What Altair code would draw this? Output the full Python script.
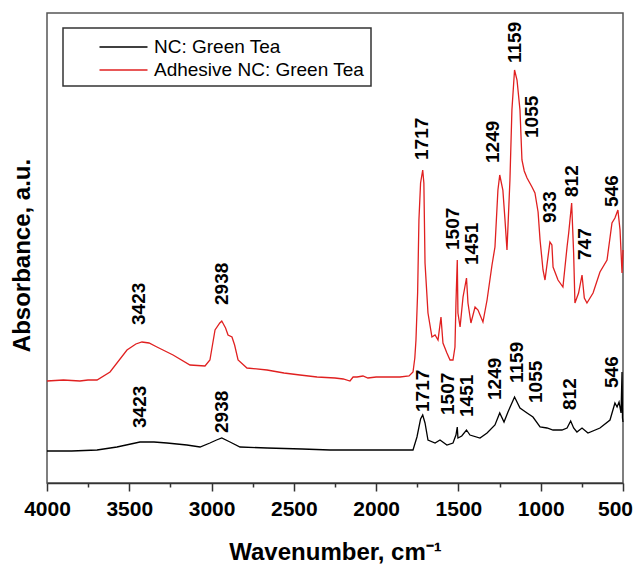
import altair as alt
import pandas as pd

series_names = ["NC: Green Tea", "Adhesive NC: Green Tea"]
series_colors = ["#000000", "#e02020"]

# Adhesive NC: Green Tea (red) spectrum
ad_wn = [4000, 3900, 3800, 3751, 3696, 3617, 3514, 3460, 3423, 3380, 3332, 3234, 3131, 3040,
         3010, 2979, 2950, 2938, 2915, 2900, 2876, 2860, 2839, 2785, 2663, 2560, 2463, 2359,
         2250, 2200, 2159, 2140, 2116, 2080, 2050, 2000, 1958, 1900, 1855, 1800, 1776, 1765,
         1758, 1748, 1740, 1730, 1717, 1710, 1703, 1685, 1661, 1642, 1624, 1606, 1594, 1570,
         1551, 1533, 1521, 1515, 1507, 1503, 1490, 1472, 1451, 1442, 1424, 1399, 1381, 1351,
         1326, 1296, 1278, 1260, 1249, 1230, 1217, 1205, 1187, 1175, 1159, 1144, 1126, 1114,
         1100, 1083, 1053, 1035, 1016, 1004, 986, 974, 944, 932, 925, 895, 865, 840, 830, 812,
         800, 792, 770, 749, 735, 719, 682, 640, 597, 567, 549, 531, 518, 506, 500]
ad_abs = [1.02, 1.03, 1.02, 1.03, 1.03, 1.11, 1.33, 1.39, 1.41, 1.40, 1.36, 1.28, 1.18, 1.17,
          1.23, 1.53, 1.60, 1.62, 1.55, 1.48, 1.46, 1.38, 1.23, 1.15, 1.13, 1.10, 1.08, 1.06,
          1.05, 1.04, 1.02, 1.06, 1.06, 1.07, 1.05, 1.06, 1.06, 1.06, 1.06, 1.07, 1.11, 1.25,
          1.43, 1.90, 2.63, 3.00, 3.13, 3.00, 2.20, 1.70, 1.46, 1.48, 1.43, 1.66, 1.40, 1.30,
          1.23, 1.23, 1.36, 1.80, 2.23, 1.70, 1.56, 1.86, 2.05, 1.80, 1.60, 1.76, 1.73, 1.61,
          1.83, 2.18, 2.36, 2.93, 3.08, 2.93, 2.63, 2.33, 3.03, 3.73, 4.13, 4.03, 3.73, 3.23,
          3.12, 3.05, 2.96, 2.90, 2.71, 2.43, 2.13, 2.03, 2.41, 2.38, 2.16, 2.03, 1.96, 2.36, 2.50, 2.80,
          2.30, 1.80, 1.90, 2.08, 1.85, 1.80, 1.90, 2.11, 2.23, 2.60, 2.65, 2.73, 2.53, 2.10, 2.33]

# NC: Green Tea (black) spectrum
nc_wn = [4000, 3850, 3696, 3575, 3435, 3350, 3271, 3150, 3070, 3010, 2970, 2938, 2888, 2827,
         2663, 2450, 2280, 2000, 1800, 1776, 1752, 1730, 1717, 1703, 1685, 1642, 1612, 1570,
         1533, 1515, 1507, 1503, 1480, 1451, 1430, 1369, 1326, 1278, 1249, 1223, 1199, 1159,
         1126, 1083, 1047, 1004, 962, 925, 871, 840, 818, 800, 780, 749, 713, 640, 579, 549,
         536, 524, 512, 506, 503, 500]
nc_abs = [0.32, 0.32, 0.33, 0.36, 0.41, 0.41, 0.40, 0.38, 0.36, 0.40, 0.43, 0.45, 0.41, 0.36,
          0.35, 0.34, 0.33, 0.33, 0.33, 0.33, 0.46, 0.64, 0.68, 0.60, 0.43, 0.40, 0.43, 0.38,
          0.40, 0.48, 0.56, 0.45, 0.47, 0.53, 0.48, 0.45, 0.50, 0.58, 0.70, 0.61, 0.71, 0.86,
          0.75, 0.70, 0.66, 0.56, 0.55, 0.53, 0.53, 0.55, 0.62, 0.55, 0.51, 0.55, 0.50, 0.55, 0.63, 0.80,
          0.76, 0.81, 0.70, 1.11, 0.65, 0.61]

# Peak annotations
ad_labels = ["3423", "2938", "1717", "1507", "1451", "1249", "1159", "1055", "933", "812", "747", "546"]
ad_label_x = [3441, 2938, 1721, 1533, 1418, 1290, 1156, 1053, 944, 810, 731, 567]
ad_label_y = [1.58, 1.78, 3.23, 2.33, 2.18, 3.20, 4.20, 3.45, 2.60, 2.86, 2.23, 2.76]

nc_labels = ["3423", "2938", "1717", "1507", "1451", "1249", "1159", "1055", "812", "546"]
nc_label_x = [3435, 2937, 1715, 1563, 1448, 1278, 1144, 1029, 822, 567]
nc_label_y = [0.55, 0.50, 0.71, 0.68, 0.66, 0.83, 1.00, 0.80, 0.73, 0.95]

x_ticks = [4000, 3750, 3500, 3250, 3000, 2750, 2500, 2250, 2000, 1750, 1500, 1250, 1000, 750, 500]

spec_df = pd.concat([
    pd.DataFrame({"wn": nc_wn, "abs": nc_abs, "series": series_names[0]}),
    pd.DataFrame({"wn": ad_wn, "abs": ad_abs, "series": series_names[1]}),
], ignore_index=True)

lab_df = pd.concat([
    pd.DataFrame({"label": ad_labels, "x": ad_label_x, "y": ad_label_y}),
    pd.DataFrame({"label": nc_labels, "x": nc_label_x, "y": nc_label_y}),
], ignore_index=True)

FONT = "Liberation Sans"
x_scale = alt.Scale(domain=[500, 4000], reverse=True, nice=False, zero=False)
y_scale = alt.Scale(domain=[0, 4.7], nice=False, zero=False)

lines = alt.Chart(spec_df).mark_line(strokeWidth=1.3).encode(
    x=alt.X("wn:Q", scale=x_scale, axis=alt.Axis(
        values=x_ticks, format="d", title="Wavenumber, cm\u207b\u00b9",
        labelExpr="datum.value % 500 === 0 ? datum.label : ''",
        tickSize={"condition": {"test": "datum.value % 500 === 0", "value": 8}, "value": 4},
        labelOffset={"condition": {"test": "datum.value === 500", "value": -8}, "value": 0},
        labelFont=FONT, labelFontSize=21, labelFontWeight="bold", labelColor="black",
        labelPadding=7, labelOverlap=False, labelFlush=False,
        titleFont=FONT, titleFontSize=24, titleFontWeight="bold", titleColor="black",
        titleBaseline="alphabetic", titleY=76,
        domainColor="#333333", domainWidth=1.5, tickColor="#333333", tickWidth=1.5,
        grid=False)),
    y=alt.Y("abs:Q", scale=y_scale, axis=alt.Axis(
        labels=False, ticks=False, domain=False, grid=False,
        title="Absorbance, a.u.", titleFont=FONT, titleFontSize=24, titleFontWeight="bold",
        titleColor="black", titleAngle=270, titleX=-25, titleY=242,
        titleAlign="center", titleBaseline="middle")),
    color=alt.Color("series:N", scale=alt.Scale(domain=series_names, range=series_colors),
                    legend=alt.Legend(
                        title=None, orient="none", legendX=16, legendY=15, direction="vertical",
                        symbolType="M-2,0H2", symbolSize=576, symbolStrokeWidth=1.5,
                        labelFont=FONT, labelFontSize=19, labelColor="black", labelLimit=600,
                        labelOffset=17.5, symbolOffset=41.5, padding=6, rowPadding=0,
                        strokeColor="#333333", fillColor="white",
                        labelExpr="datum.label + '\u00a0\u00a0\u00a0\u00a0'")),
)

text = alt.Chart(lab_df).mark_text(
    angle=270, align="left", baseline="middle", font=FONT, fontSize=19,
    fontWeight="bold", color="black"
).encode(
    x=alt.X("x:Q", scale=x_scale),
    y=alt.Y("y:Q", scale=y_scale),
    text="label:N",
)

chart = alt.layer(lines, text).properties(
    width=576, height=470,
    autosize=alt.AutoSizeParams(type="none"),
    padding={"left": 39, "top": 5, "right": 10, "bottom": 82},
    background="white",
).configure_view(stroke="#555555", strokeWidth=1.5).configure_legend(strokeWidth=1.5)

chart.save("out.html", embed_options={"renderer": "svg", "actions": False})
